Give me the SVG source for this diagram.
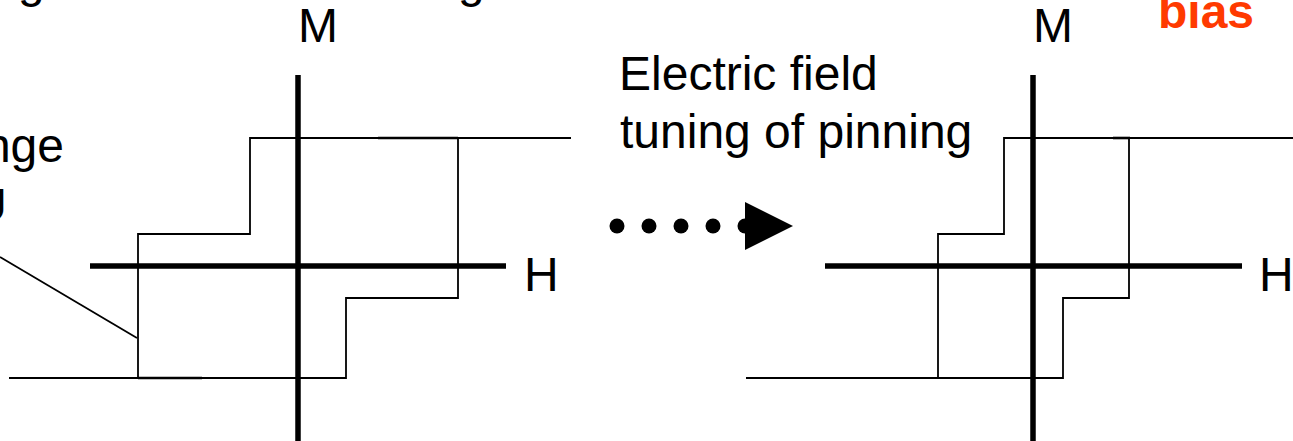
<svg xmlns="http://www.w3.org/2000/svg" width="1293" height="441" viewBox="0 0 1293 441">
  <style>
    .t { font-family: "Liberation Sans", Arial, sans-serif; font-size: 48px; fill: #000; }
    .bias { font-family: "Liberation Sans", Arial, sans-serif; font-size: 48px; font-weight: bold; fill: #FF3A00; }
    .axis { stroke: #000; stroke-width: 5.5; fill: none; }
    .loop { stroke: #000; stroke-width: 1.8; fill: none; }
    .over { stroke: #000; stroke-width: 2.6; fill: none; }
  </style>
  <rect width="1293" height="441" fill="#fff"/>

  <g id="cropped-text">
    <text class="t" x="18" y="-3">g</text>
    <text class="t" x="458" y="-3">g</text>
    <text class="t" x="64" y="162" text-anchor="end">nge</text>
    <text class="t" x="7" y="222" text-anchor="end">U</text>
    <text class="bias" x="1158" y="28">bias</text>
  </g>

  <g id="left-plot">
    <line class="axis" x1="298" y1="75" x2="298" y2="441"/>
    <line class="axis" x1="90" y1="266" x2="506" y2="266"/>
    <path class="loop" d="M571,138 H250 V234 H138 V378 H346 V298 H458 V138 M9,378 H138"/>
    <path class="over" d="M378,138 H458 M138,378 H202"/>
    <text class="t" x="318" y="42" text-anchor="middle">M</text>
    <text class="t" x="524" y="291">H</text>
  </g>

  <g id="right-plot">
    <line class="axis" x1="1033" y1="75" x2="1033" y2="441"/>
    <line class="axis" x1="825" y1="266" x2="1242" y2="266"/>
    <path class="loop" d="M1293,138 H1004 V234 H938 V378 H1063 V298 H1129 V138 M746,378 H938"/>
    <path class="over" d="M1113,138 H1130"/>
    <text class="t" x="1053" y="42" text-anchor="middle">M</text>
    <text class="t" x="1259" y="291">H</text>
  </g>

  <g id="caption">
    <text class="t" x="619" y="90">Electric field</text>
    <text class="t" x="620" y="148">tuning of pinning</text>
  </g>

  <g id="connectors">
    <circle cx="617" cy="226" r="7.5" fill="#000"/>
    <circle cx="649" cy="226" r="7.5" fill="#000"/>
    <circle cx="681" cy="226" r="7.5" fill="#000"/>
    <circle cx="713" cy="226" r="7.5" fill="#000"/>
    <circle cx="745" cy="226" r="7.5" fill="#000"/>
    <polygon points="745,202 793,226 745,250" fill="#000"/>
    <line class="loop" x1="0" y1="257" x2="137" y2="338"/>
  </g>
</svg>
